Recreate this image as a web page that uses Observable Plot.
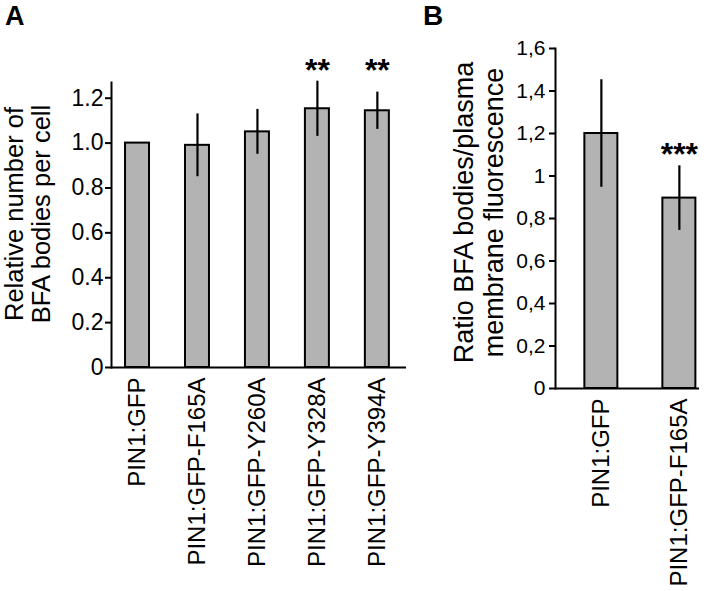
<!DOCTYPE html>
<html><head><meta charset="utf-8">
<script src="https://cdn.jsdelivr.net/npm/d3@7"></script>
<script src="https://cdn.jsdelivr.net/npm/@observablehq/plot@0.6"></script>
<style>
html,body{margin:0;padding:0;background:#fff;}
#wrap{position:relative;width:721px;height:591px;font-family:"Liberation Sans",Arial,sans-serif;overflow:hidden;}
#a,#b{position:absolute;top:0;}
#a{left:0;} #b{left:420px;}
.letter{position:absolute;font-weight:bold;line-height:1;color:#000;}
</style></head><body>
<div id="wrap">
<div id="a"></div><div id="b"></div>
<div class="letter" style="left:5px;top:3px;font-size:27px">A</div>
<div class="letter" style="left:423px;top:2px;font-size:28px">B</div>
</div>
<script>
// Panel A data
const catsA = ["PIN1:GFP", "PIN1:GFP-F165A", "PIN1:GFP-Y260A", "PIN1:GFP-Y328A", "PIN1:GFP-Y394A"];
const meansA = [1.0, 0.99, 1.05, 1.153, 1.144];
const errsA = [0, 0.14, 0.10, 0.123, 0.083];
const sigA = ["", "", "", "**", "**"];
const yTicksA = [0, 0.2, 0.4, 0.6, 0.8, 1.0, 1.2];
const yMaxA = 1.27;
const yLabelA = "Relative number of\nBFA bodies per cell";

// Panel B data
const catsB = ["PIN1:GFP", "PIN1:GFP-F165A"];
const meansB = [1.2, 0.896];
const errsB = [0.253, 0.152];
const sigB = ["", "***"];
const yTicksB = [0, 0.2, 0.4, 0.6, 0.8, 1.0, 1.2, 1.4, 1.6];
const yMaxB = 1.6;
const yLabelB = "Ratio BFA bodies/plasma\nmembrane fluorescence";

const dataA = catsA.map((c, i) => ({cat: c, mean: meansA[i], err: errsA[i], sig: sigA[i]}));
const dataB = catsB.map((c, i) => ({cat: c, mean: meansB[i], err: errsB[i], sig: sigB[i]}));

const font = "'Liberation Sans', Arial, Helvetica, sans-serif";
const barFill = "#b3b3b3";

const fmtA = d => d === 0 ? "0" : d.toFixed(1);
const fmtB = d => String(+d.toFixed(1)).replace(".", ",");

const starsA = dataA.filter(d => d.sig);
const starYA = d3.max(starsA, d => d.mean + d.err);

const plotA = Plot.plot({
  width: 420, height: 591,
  marginLeft: 111, marginRight: 14, marginTop: 82, marginBottom: 224,
  style: {fontFamily: font, color: "black", background: "transparent", overflow: "visible"},
  x: {domain: catsA, paddingInner: 0.6, paddingOuter: 0.26, align: 0.45, round: false},
  y: {domain: [0, yMaxA]},
  marks: [
    Plot.barY(dataA, {x: "cat", y: "mean", fill: barFill, stroke: "black", strokeWidth: 2}),
    Plot.ruleX(dataA.filter(d => d.err > 0), {x: "cat", y1: d => d.mean - d.err, y2: d => d.mean + d.err, stroke: "black", strokeWidth: 2.2}),
    Plot.frame({anchor: "left", stroke: "black", strokeWidth: 2}),
    Plot.ruleY([0], {stroke: "black", strokeWidth: 2}),
    Plot.axisY({ticks: yTicksA, tickFormat: fmtA, tickSize: 6, tickPadding: 2, fontSize: 23, strokeWidth: 2, label: null}),
    Plot.axisX({tickSize: 0, tickPadding: 10, tickRotate: -90, fontSize: 24, label: null}),
    Plot.text(starsA, {x: "cat", y: () => starYA, text: "sig", fontSize: 32, fontWeight: "bold", lineAnchor: "bottom", dy: 0}),
    Plot.text([yLabelA], {text: d => d, frameAnchor: "left", textAnchor: "middle", lineAnchor: "middle", rotate: -90, dx: -84, dy: -11, fontSize: 25.5, lineHeight: 1.08})
  ]
});
document.getElementById("a").appendChild(plotA);

const plotB = Plot.plot({
  width: 301, height: 591,
  marginLeft: 135, marginRight: 22, marginTop: 48, marginBottom: 203,
  style: {fontFamily: font, color: "black", background: "transparent", overflow: "visible"},
  x: {domain: catsB, paddingInner: 0.577, paddingOuter: 0.2115, align: 0.89, round: false},
  y: {domain: [0, yMaxB]},
  marks: [
    Plot.barY(dataB, {x: "cat", y: "mean", fill: barFill, stroke: "black", strokeWidth: 2}),
    Plot.ruleX(dataB.filter(d => d.err > 0), {x: "cat", y1: d => d.mean - d.err, y2: d => d.mean + d.err, stroke: "black", strokeWidth: 2.2}),
    Plot.frame({anchor: "left", stroke: "black", strokeWidth: 2}),
    Plot.ruleY([0], {stroke: "black", strokeWidth: 2}),
    Plot.axisY({ticks: yTicksB, tickFormat: fmtB, tickSize: 6, tickPadding: 4, fontSize: 21, strokeWidth: 2, label: null}),
    Plot.axisX({tickSize: 0, tickPadding: 10, tickRotate: -90, fontSize: 24, label: null}),
    Plot.text(dataB.filter(d => d.sig), {x: "cat", y: d => d.mean + d.err, text: "sig", fontSize: 32, fontWeight: "bold", lineAnchor: "bottom", dy: -1}),
    Plot.text([yLabelB], {text: d => d, frameAnchor: "left", textAnchor: "middle", lineAnchor: "middle", rotate: -90, dx: -77, dy: -6, fontSize: 27, lineHeight: 1.12})
  ]
});
document.getElementById("b").appendChild(plotB);
</script>
</body></html>
